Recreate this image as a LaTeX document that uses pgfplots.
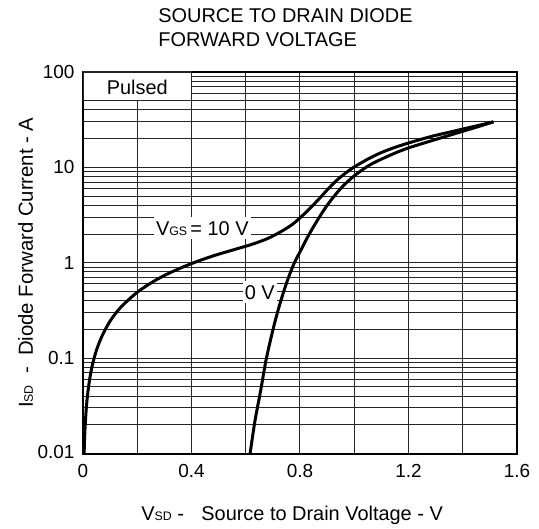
\documentclass[border=0pt]{standalone}
\usepackage{fontspec}
\setmainfont{Liberation Sans}
\usepackage{pgfplots}
\pgfplotsset{compat=1.18}
\newcommand{\sub}[1]{{\fontsize{6.2}{7}\selectfont #1}}
\begin{document}
\begin{tikzpicture}[x=1bp,y=1bp]
\useasboundingbox (-41.5,-37.75) rectangle (228,226.75);
\begin{axis}[
  at={(0,0)}, anchor=south west,
  scale only axis, width=217bp, height=190.75bp,
  ymode=log, xmin=0, xmax=1.6, ymin=0.01, ymax=100,
  xtick={0,0.4,0.8,1.2,1.6}, xticklabels={0,0.4,0.8,1.2,1.6},
  minor xtick={0.2,0.6,1.0,1.4},
  ytick={0.01,0.1,1,10,100}, yticklabels={\raisebox{2bp}{0.01},0.1,1,10,100},
  minor ytick={0.02,0.03,0.04,0.05,0.06,0.07,0.08,0.09,0.2,0.3,0.4,0.5,0.6,0.7,0.8,0.9,2,3,4,5,6,7,8,9,20,30,40,50,60,70,80,90},
  grid=both,
  major grid style={black!85, line width=0.5bp},
  minor grid style={black!85, line width=0.5bp},
  major tick length=0pt, minor tick length=0pt,
  tick label style={font=\fontsize{9.5}{11}\selectfont},
  xticklabel style={yshift=-1.7bp},
  yticklabel style={xshift=-0.8bp},
  axis line style={line width=1bp},
]
\filldraw[fill=white, draw=black!85, line width=0.7bp] (axis cs:0,50) rectangle (axis cs:0.4,100);
\node[font=\fontsize{10}{12}\selectfont] at (axis cs:0.2,68.3) {Pulsed};
\addplot[black, line width=1.5bp, smooth] coordinates {
(0.0041,0.01) (0.006,0.0147) (0.008,0.0196) (0.012,0.0294) (0.017,0.0417) (0.025,0.061)
(0.035,0.086) (0.05,0.122) (0.07,0.17) (0.1,0.245) (0.14,0.343) (0.2,0.49) (0.26,0.637)
(0.32,0.784) (0.4,0.98) (0.48,1.18) (0.56,1.38) (0.62,1.55) (0.68,1.79) (0.73,2.12)
(0.77,2.5) (0.8,2.95) (0.84,3.8) (0.874,4.8) (0.905,6.0) (0.935,7.3) (0.97,8.8) (1.0,10.1)
(1.05,12.2) (1.095,14.1) (1.15,16.2) (1.2,18.0) (1.279,20.9) (1.34,23) (1.4,25.2)
(1.46,27.6) (1.513,30)
};
\addplot[black, line width=1.5bp, smooth] coordinates {
(0.616,0.01) (0.634,0.022) (0.655,0.0457) (0.675,0.096) (0.70,0.197) (0.72,0.324)
(0.74,0.50) (0.76,0.731) (0.78,1.01) (0.8,1.30) (0.825,1.79) (0.85,2.39) (0.88,3.29)
(0.911,4.41) (0.955,6.22) (1.0,8.15) (1.05,10.3) (1.095,12.0) (1.15,14.1) (1.2,16.0)
(1.279,18.8) (1.34,21.2) (1.4,23.9) (1.46,26.9) (1.513,30)
};
\node[fill=white, inner xsep=1bp, inner ysep=2bp, font=\fontsize{10}{12}\selectfont] at (axis cs:0.44,2.3) {V\sub{GS}\,= 10 V};
\node[fill=white, inner xsep=1bp, inner ysep=2bp, font=\fontsize{10}{12}\selectfont] at (axis cs:0.652,0.49) {0 V};
\end{axis}
\node[anchor=base west, inner sep=0pt, font=\fontsize{10}{12}\selectfont] at (37.5,215.6) {SOURCE TO DRAIN DIODE};
\node[anchor=base west, inner sep=0pt, font=\fontsize{10}{12}\selectfont] at (37.5,203.55) {FORWARD VOLTAGE};
\node[anchor=base west, inner sep=0pt, font=\fontsize{10}{12}\selectfont] at (29,-33.6) {V\sub{SD} -};
\node[anchor=base west, inner sep=0pt, font=\fontsize{10}{12}\selectfont] at (59,-33.6) {Source to Drain Voltage - V};
\node[rotate=90, anchor=base, inner sep=0pt, font=\fontsize{10.2}{12}\selectfont] at (-25,95.4) {I\sub{SD}\ \ -\ \ Diode Forward Current - A};
\end{tikzpicture}
\end{document}
